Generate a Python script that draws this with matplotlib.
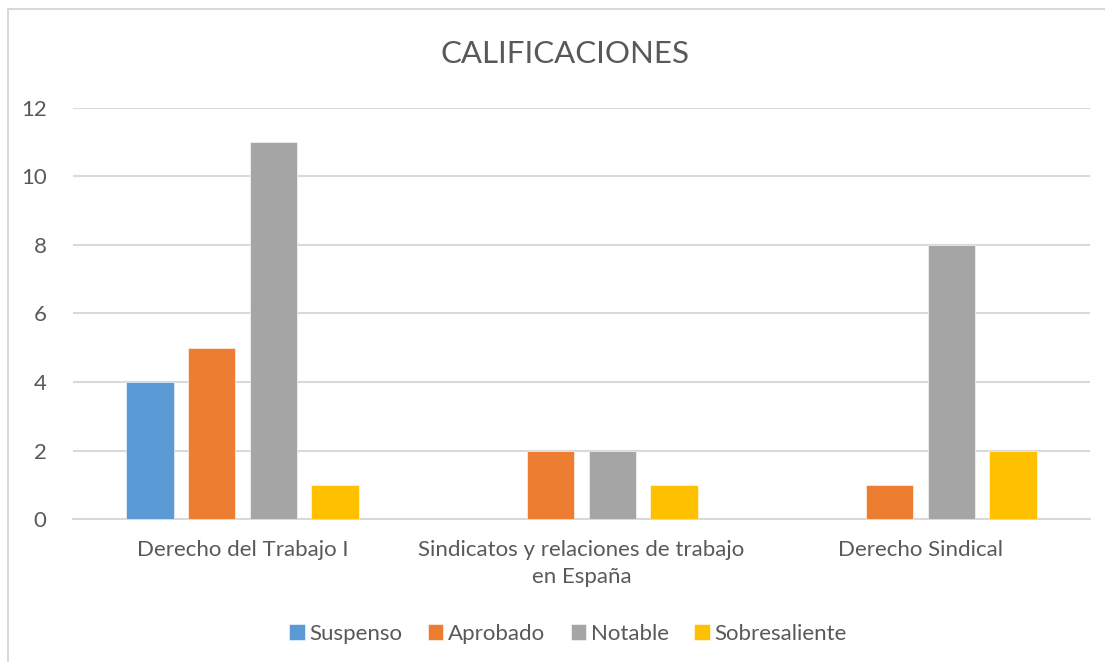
import numpy as np
import matplotlib.pyplot as plt
from matplotlib.patches import Rectangle

categories = ['Derecho del Trabajo I', 'Sindicatos y relaciones de trabajo\nen España', 'Derecho Sindical']
series = ['Suspenso', 'Aprobado', 'Notable', 'Sobresaliente']
values = [
    [4, 0, 0],
    [5, 2, 1],
    [11, 2, 8],
    [1, 1, 2],
]
colors = ['#5B9BD5', '#ED7D31', '#A5A5A5', '#FFC000']

plt.rcParams['font.family'] = ['Lato', 'DejaVu Sans']
textColor = '#595959'

fig = plt.figure(figsize=(11.05, 6.62), dpi=100)
ax = fig.add_axes([0.0661, 0.216, 0.9203, 0.6209])

x = np.arange(len(categories))
step = 0.1826
width = 0.141
for i in range(len(series)):
    ax.bar(x + (i - 1.5) * step, values[i], width, color=colors[i], label=series[i],
           edgecolor='white', linewidth=0.4, zorder=3)

ax.set_xlim(-0.5, 2.5)
ax.set_ylim(0, 12)
ax.set_yticks(np.arange(0, 13, 2))
ax.set_xticks(x)
ax.set_xticklabels(categories, fontsize=16, color=textColor, linespacing=1.45)
ax.tick_params(axis='y', labelsize=16, labelcolor=textColor, length=0, pad=19)
ax.tick_params(axis='x', length=0, pad=15)
ax.grid(axis='y', color='#D9D9D9', linewidth=1.5, zorder=0)
for s in ['top', 'right', 'left']:
    ax.spines[s].set_visible(False)
ax.spines['bottom'].set_color('#D9D9D9')
ax.spines['bottom'].set_linewidth(1.5)

fig.text(0.511, 0.918, 'CALIFICACIONES', ha='center', va='center', fontsize=22.5, color=textColor)

fig.legend(loc='center', bbox_to_anchor=(0.514, 0.043), ncol=4, frameon=False,
           fontsize=16, labelcolor=textColor, handlelength=0.7, handleheight=0.7,
           handletextpad=0.2, columnspacing=1.15)

fig.patches.append(Rectangle((8 / 1105, -0.05), 1.2, 1 - 9 / 662 + 0.05, transform=fig.transFigure,
                             fill=False, edgecolor='#D9D9D9', linewidth=1.5))

fig.savefig('out.png', dpi=100)
